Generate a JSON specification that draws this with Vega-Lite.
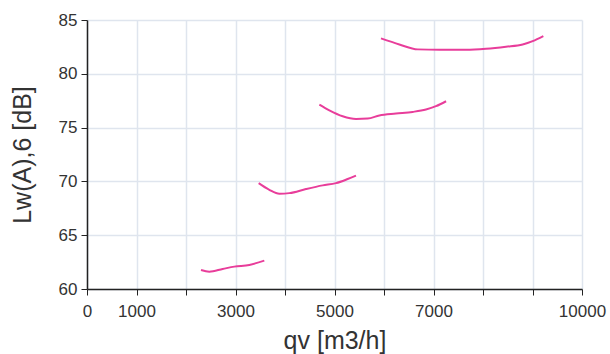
{
  "$schema": "https://vega.github.io/schema/vega-lite/v6.json",
  "autosize": "none",
  "width": 495,
  "height": 269,
  "padding": {"left": 87, "top": 20, "right": 28, "bottom": 65},
  "background": "white",
  "config": {
    "view": {"stroke": null},
    "font": "Liberation Sans"
  },
  "data": {
    "values": [
      {"curve": "a", "qv": 2303, "lw": 61.77},
      {"curve": "a", "qv": 2471, "lw": 61.61},
      {"curve": "a", "qv": 2741, "lw": 61.86},
      {"curve": "a", "qv": 2976, "lw": 62.08},
      {"curve": "a", "qv": 3279, "lw": 62.24},
      {"curve": "a", "qv": 3582, "lw": 62.64},
      {"curve": "b", "qv": 3468, "lw": 69.84},
      {"curve": "b", "qv": 3684, "lw": 69.22},
      {"curve": "b", "qv": 3886, "lw": 68.85},
      {"curve": "b", "qv": 4088, "lw": 68.91},
      {"curve": "b", "qv": 4424, "lw": 69.29},
      {"curve": "b", "qv": 4761, "lw": 69.63},
      {"curve": "b", "qv": 5030, "lw": 69.84},
      {"curve": "b", "qv": 5266, "lw": 70.22},
      {"curve": "b", "qv": 5434, "lw": 70.53},
      {"curve": "c", "qv": 4694, "lw": 77.14},
      {"curve": "c", "qv": 4896, "lw": 76.61},
      {"curve": "c", "qv": 5165, "lw": 76.06},
      {"curve": "c", "qv": 5434, "lw": 75.81},
      {"curve": "c", "qv": 5670, "lw": 75.84},
      {"curve": "c", "qv": 5906, "lw": 76.12},
      {"curve": "c", "qv": 6242, "lw": 76.30},
      {"curve": "c", "qv": 6579, "lw": 76.46},
      {"curve": "c", "qv": 6848, "lw": 76.68},
      {"curve": "c", "qv": 7050, "lw": 76.99},
      {"curve": "c", "qv": 7253, "lw": 77.45},
      {"curve": "d", "qv": 5939, "lw": 83.29},
      {"curve": "d", "qv": 6310, "lw": 82.73},
      {"curve": "d", "qv": 6680, "lw": 82.27},
      {"curve": "d", "qv": 7118, "lw": 82.24},
      {"curve": "d", "qv": 7657, "lw": 82.24},
      {"curve": "d", "qv": 8061, "lw": 82.33},
      {"curve": "d", "qv": 8465, "lw": 82.52},
      {"curve": "d", "qv": 8801, "lw": 82.73},
      {"curve": "d", "qv": 9003, "lw": 83.04},
      {"curve": "d", "qv": 9219, "lw": 83.51}
    ]
  },
  "mark": {"type": "line", "color": "#e83d9a", "strokeWidth": 2, "interpolate": "monotone"},
  "encoding": {
    "x": {
      "field": "qv",
      "type": "quantitative",
      "scale": {"domain": [0, 10000], "nice": false, "zero": false},
      "axis": {
        "title": "qv [m3/h]",
        "values": [0, 1000, 2000, 3000, 4000, 5000, 6000, 7000, 8000, 9000, 10000],
        "labelExpr": "indexof([0,1000,3000,5000,7000,10000], datum.value) >= 0 ? datum.value : ''",
        "labelOverlap": false,
        "labelFlush": false,
        "labelFontSize": 17,
        "labelColor": "#333333",
        "labelPadding": 8,
        "tickSize": 6,
        "tickColor": "#222222",
        "domainColor": "#222222",
        "domainWidth": 1.5,
        "gridColor": "#dfe5ee",
        "gridWidth": 1.5,
        "titleFontSize": 25,
        "titleFontWeight": "normal",
        "titleColor": "#333333",
        "titlePadding": 9
      }
    },
    "y": {
      "field": "lw",
      "type": "quantitative",
      "scale": {"domain": [60, 85], "nice": false, "zero": false},
      "axis": {
        "title": "Lw(A),6 [dB]",
        "values": [60, 65, 70, 75, 80, 85],
        "labelFontSize": 17,
        "labelColor": "#333333",
        "labelPadding": 4,
        "tickSize": 6,
        "tickColor": "#222222",
        "domainColor": "#222222",
        "domainWidth": 1.5,
        "gridColor": "#dfe5ee",
        "gridWidth": 1.5,
        "titleFontSize": 25,
        "titleFontWeight": "normal",
        "titleColor": "#333333",
        "titlePadding": 23
      }
    },
    "detail": {"field": "curve"}
  }
}
